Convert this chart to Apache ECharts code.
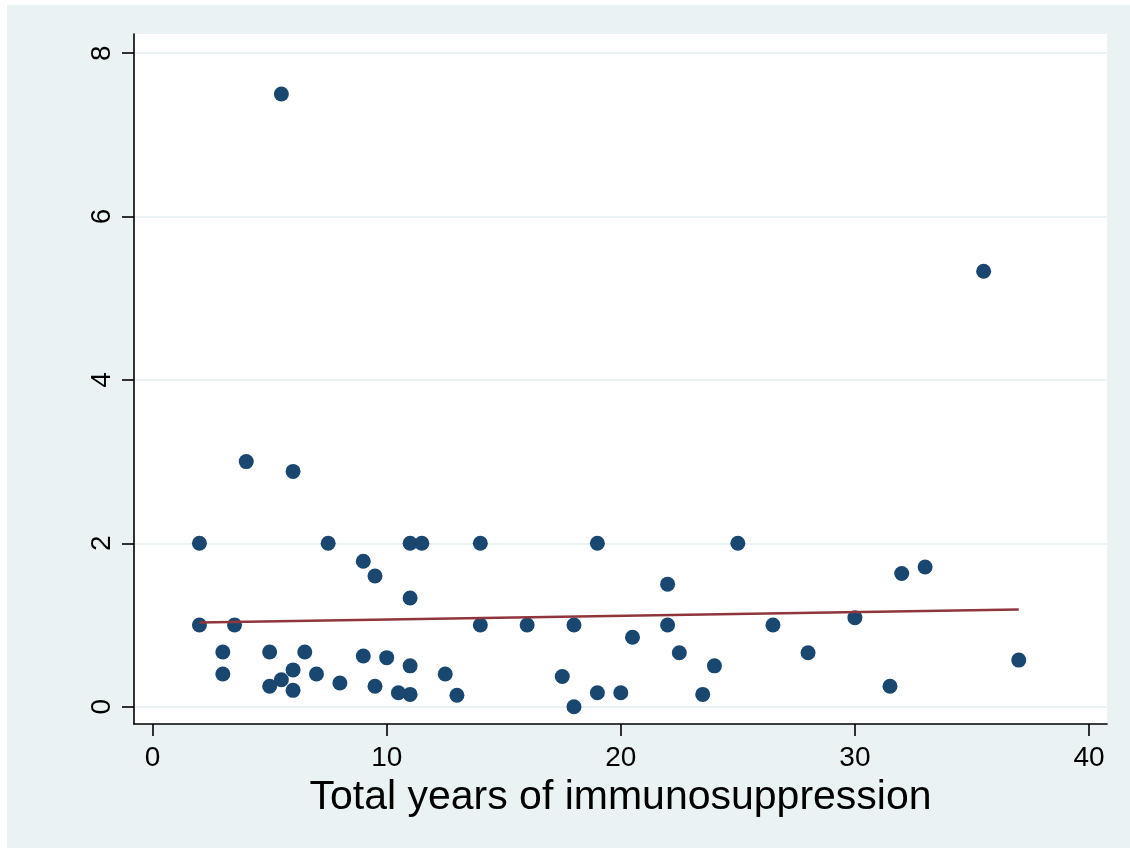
<!DOCTYPE html>
<html>
<head>
    <meta charset="utf-8">
    <title>Immunosuppression scatter</title>
    <script src="https://cdn.jsdelivr.net/npm/echarts@6/dist/echarts.min.js"></script>
    <style>
        html, body { margin: 0; padding: 0; background: #ffffff; }
        #main { position: absolute; left: 7px; top: 5px; width: 1123px; height: 843px; }
    </style>
</head>
<body>
    <div id="main"></div>
    <script type="text/javascript">
        // values
        var years = [4, 6, 2, 7.5, 11, 11.5, 9, 9.5, 11, 2, 3.5, 3, 3, 5, 6.5, 6, 5.5, 5, 6, 7,
            8, 9, 10, 11, 9.5, 10.5, 11, 12.5, 13, 14, 19, 22, 14, 16, 18, 22, 20.5, 22.5, 24,
            17.5, 18, 19, 20, 23.5, 25, 32, 33, 26.5, 30, 28, 31.5, 37, 5.5, 35.5];
        var values = [3, 2.88, 2, 2, 2, 2, 1.78, 1.6, 1.33, 1, 1, 0.67, 0.4, 0.67, 0.67, 0.45, 0.33, 0.25, 0.2, 0.4,
            0.29, 0.62, 0.6, 0.5, 0.25, 0.17, 0.15, 0.4, 0.14, 2, 2, 1.5, 1, 1, 1, 1, 0.85, 0.66, 0.5,
            0.37, 0, 0.17, 0.17, 0.15, 2, 1.63, 1.71, 1, 1.09, 0.66, 0.25, 0.57, 7.5, 5.33];
        // fitted line ends
        var fitX = [2, 37];
        var fitY = [1.03, 1.19];
        var xTicks = [0, 10, 20, 30, 40];
        var yTicks = [0, 2, 4, 6, 8];
        var xTitle = 'Total years of immunosuppression';

        var points = years.map(function (x, i) { return [x, values[i]]; });
        var fit = fitX.map(function (x, i) { return [x, fitY[i]]; });

        var myChart = echarts.init(document.getElementById('main'));
        var font = '"Liberation Sans", Arial, sans-serif';
        option = {
            animation: false,
            backgroundColor: '#EAF2F3',
            grid: {
                left: 127, right: 23, top: 29, bottom: 124,
                show: true, backgroundColor: '#ffffff', borderWidth: 0
            },
            xAxis: {
                type: 'value',
                min: -0.795, max: 40.77,
                name: xTitle,
                nameLocation: 'middle',
                nameGap: 48,
                nameTextStyle: { fontSize: 41, color: '#000', fontFamily: font },
                axisLine: { show: true, onZero: false, lineStyle: { color: '#000', width: 1.6 } },
                axisTick: { show: true, length: 12, customValues: xTicks, lineStyle: { color: '#000', width: 1.6 } },
                axisLabel: { customValues: xTicks, fontSize: 28, color: '#000', fontFamily: font, margin: 20 },
                splitLine: { show: false }
            },
            yAxis: {
                type: 'value',
                min: -0.212, max: 8.234,
                axisLine: { show: true, onZero: false, lineStyle: { color: '#000', width: 1.6 } },
                axisTick: { show: true, length: 12, customValues: yTicks, lineStyle: { color: '#000', width: 1.6 } },
                axisLabel: { customValues: yTicks, rotate: 90, fontSize: 28, color: '#000', fontFamily: font, margin: 18 },
                splitLine: { show: true, lineStyle: { color: '#EAF2F3', width: 2 } }
            },
            series: [{
                type: 'scatter',
                data: points,
                symbolSize: 15,
                itemStyle: { color: '#1A476F', opacity: 1 },
                z: 3
            }, {
                type: 'line',
                data: fit,
                showSymbol: false,
                lineStyle: { color: '#90353B', width: 2.5 },
                z: 4
            }]
        };
        myChart.setOption(option);
    </script>
</body>
</html>
